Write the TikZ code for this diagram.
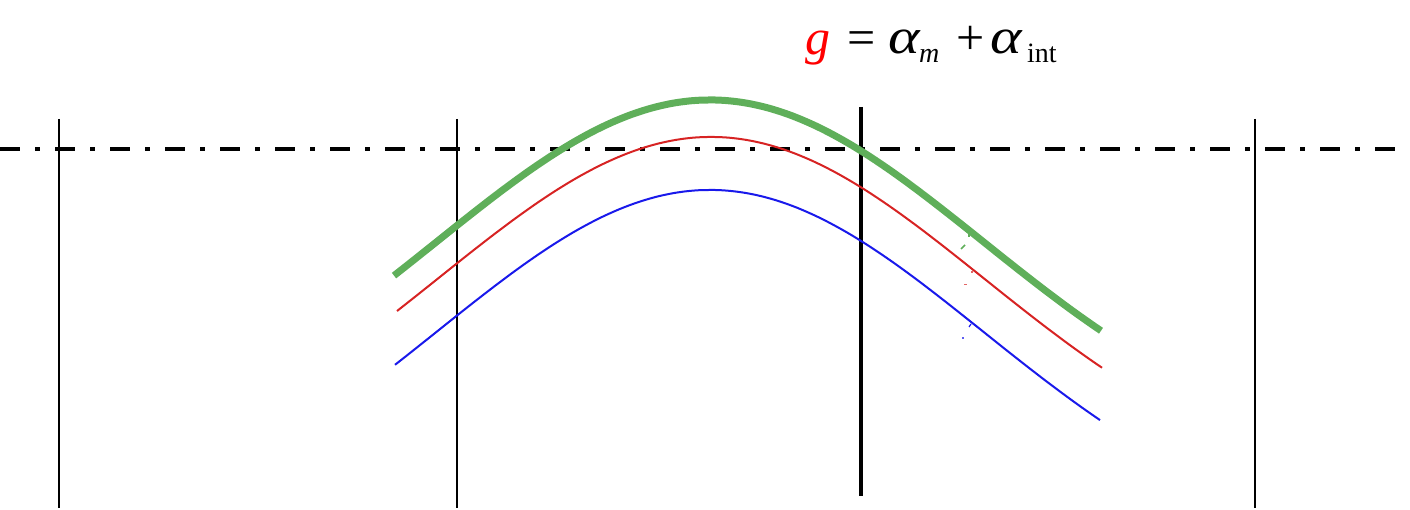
\documentclass[tikz,border=0pt]{standalone}
\usepackage{fontspec}
\setmainfont{Liberation Serif}
\definecolor{cgreen}{RGB}{95,175,90}
\definecolor{cred}{RGB}{215,35,35}
\definecolor{cblue}{RGB}{25,25,235}
\tikzset{
  vline/.style={line width=1.6pt, black},
  axisline/.style={line width=4pt, black, dash pattern=on 20pt off 15pt on 5pt off 15pt},
  curve/.style={line width=2pt},
  big/.style={inner sep=0pt, anchor=base west, font=\fontsize{50}{60}\selectfont},
  small/.style={inner sep=0pt, anchor=base west, font=\fontsize{28}{32}\selectfont},
}
\newcommand\widealpha{\scalebox{1.2}[1]{\textit{α}}}
\begin{document}
\begin{tikzpicture}[x=1pt,y=-1pt,
  declare function={bell(\t)=360*(1-exp(-(\t/386.3)^2));}]
\useasboundingbox (0,0) rectangle (1410,510);
% vertical lines
\draw[vline] (59,119) -- (59,508);
\draw[vline] (457,119) -- (457,508);
\draw[vline] (1255,119) -- (1255,508);
\draw[line width=3.5pt] (861,107) -- (861,496);
% dash-dot axis
\draw[axisline] (0,149) -- (1410,149);
% curves
\draw[curve, cblue, shift={(710,190)}] plot[domain=-315:390, samples=120, smooth] (\x,{bell(\x)});
\draw[curve, cred, shift={(711,137)}] plot[domain=-314:391, samples=120, smooth] (\x,{bell(\x)});
\draw[line width=7pt, cgreen, shift={(710,100)}] plot[domain=-316:391, samples=120, smooth] (\x,{bell(\x)});
% small stray marks
\draw[cgreen, line width=1.5pt] (961,249) -- (965,245);
\draw[cgreen, line width=1.2pt] (969,233) -- (969,237);
\fill[cred!70] (970.5,271) rectangle (973,273.5);
\fill[cred!70] (964,284) rectangle (966.5,285.5);
\draw[cblue, line width=1.2pt] (969,327) -- (971,324);
\fill[cblue!70] (962,337) rectangle (964,339.5);
% formula
\node[big, text=red] (g) at (805,55) {\textit{g}};
\node[big] (eq) at (847,55) {=};
\node[big] (a1) at (888,54) {\widealpha};
\node[small] (m) at (919,63) {\textit{m}};
\node[big] (plus) at (956,55) {+};
\node[big] (a2) at (990,54) {\widealpha};
\node[small] (int) at (1027,63) {int};
\end{tikzpicture}
\end{document}
